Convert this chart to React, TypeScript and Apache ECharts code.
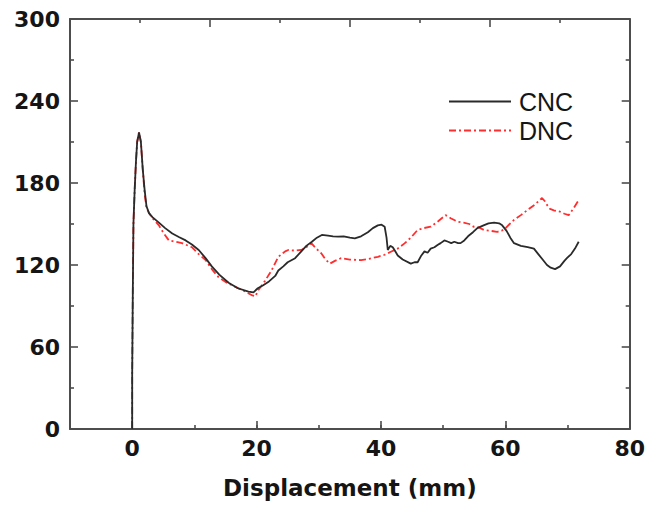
import React, { useEffect, useRef } from "react";
import * as echarts from "echarts";

const seriesNames = ["CNC", "DNC"];

const cncX = [0, 0, 0.1, 0.2, 0.4, 0.6, 0.8, 1.1, 1.4, 1.7, 2.0, 2.3, 2.7, 3.25, 4.3, 5.3, 6.45, 7.5, 8.6, 9.6, 10.7, 11.8, 12.8, 14, 15.5, 17, 18.7, 19.5, 20.2, 21, 22, 23, 23.5, 24.3, 25, 26.2, 27.2, 28, 28.9, 29.7, 30.5, 31.5, 32.3, 33.1, 34, 35, 35.8, 36.8, 37.9, 38.7, 39.5, 40.1, 40.6, 40.9, 41.1, 41.5, 41.9, 42.3, 42.7, 43.5, 44.8, 45.4, 45.9, 46.5, 47, 47.5, 48, 48.6, 49.1, 49.6, 50.2, 50.8, 51.3, 51.8, 52.4, 52.8, 53.4, 54, 54.8, 55.5, 56.5, 57.3, 58.2, 59, 59.5, 60.2, 60.8, 61.4, 62.5, 63.6, 64.6, 65.3, 66, 66.7, 67.3, 68, 68.8, 69.5, 69.9, 70.6, 71.2, 71.8];
const cncY = [0, 40, 100, 150, 175, 195, 210, 217, 210, 190, 175, 163, 158, 155, 151, 147, 143, 140.5, 138, 135, 131, 125, 119, 113, 107, 103, 100.5, 100, 103, 105, 108, 112, 116, 119, 122, 125, 130, 134, 137, 140, 142, 141.5, 141, 140.7, 141, 140, 139.5, 141, 144, 147, 149, 149.5, 148, 140, 131, 134, 133, 130, 127, 124, 121, 122, 122, 127, 130, 129, 132, 133, 134.6, 136, 138, 137, 136, 137, 136, 136, 138, 141, 144, 147, 149, 150.5, 151, 150.5, 149, 145, 140, 136, 134, 133, 132, 128, 124, 120, 118, 117, 119, 123, 125, 128, 132, 137];

const dncX = [0, 0, 0.1, 0.2, 0.4, 0.6, 0.8, 1.1, 1.4, 1.7, 2.0, 2.3, 2.7, 3.5, 4.3, 5.1, 5.9, 7, 8, 9.6, 10.7, 11.8, 12.8, 13.9, 15.2, 16.6, 18, 19.2, 19.8, 20.3, 21.3, 22.4, 23.5, 24.6, 25.1, 26.2, 27.2, 28, 28.8, 29.6, 30.4, 31.1, 31.8, 32.6, 33.6, 35, 36.8, 38, 39.5, 40.6, 41.6, 42.7, 43.8, 44.8, 45.9, 46.9, 48, 49.2, 50.4, 51.3, 52.3, 53.3, 54.2, 54.9, 55.5, 56.6, 57.6, 58.7, 59.4, 60, 60.7, 61.4, 62.5, 63.5, 64.7, 65.9, 66.3, 66.7, 67.2, 67.8, 68.3, 68.8, 69.5, 70.2, 70.9, 71.8];
const dncY = [0, 40, 100, 150, 175, 195, 210, 217, 210, 190, 172, 162, 158, 153, 149, 143, 138, 137, 136, 133, 128, 123.6, 117, 111, 107, 104, 101, 98, 97, 101.7, 108, 116, 126, 130, 131, 130.5, 131, 133, 136, 132, 128.6, 124, 121, 123, 125, 124, 123.6, 124.5, 126, 127.5, 129.7, 132, 135.8, 140, 145.6, 147, 148, 152, 156.5, 154, 151.7, 151, 150, 148, 148, 145.6, 145, 144.3, 145, 146.8, 150, 153, 156.5, 160, 164, 169, 167, 164, 161, 160, 159.5, 159, 157.5, 156.5, 161, 167.5];

const xTickLabels = [0, 20, 40, 60, 80];
const yTickLabels = [0, 60, 120, 180, 240, 300];

const AXIS_COLOR = "#4d4d4d";
const TEXT_COLOR = "#151515";

export default function App() {
  const ref = useRef<HTMLDivElement>(null);

  useEffect(() => {
    document.body.style.margin = "0";
    if (!ref.current) return;
    const chart = echarts.init(ref.current, null, { renderer: "svg" });

    const labelStyle = {
      fontSize: 22,
      fontWeight: "bold" as const,
      fontFamily: "DejaVu Sans",
      color: TEXT_COLOR,
    };
    const lineStyle = { color: AXIS_COLOR, width: 2 };
    const tickLine = { color: AXIS_COLOR, width: 1.6 };

    chart.setOption({
      animation: false,
      backgroundColor: "#ffffff",
      grid: { left: 70, right: 15, top: 19, bottom: 79, containLabel: false },
      legend: {
        data: seriesNames,
        orient: "vertical",
        left: 443,
        top: 84,
        itemWidth: 62,
        itemHeight: 20,
        itemGap: 4,
        itemStyle: { opacity: 0 },
        textStyle: {
          fontSize: 25,
          fontFamily: "Liberation Sans",
          color: TEXT_COLOR,
          padding: [0, 0, 0, 3],
        },
      },
      xAxis: [
        {
          type: "value",
          position: "bottom",
          min: -10,
          max: 80,
          interval: 10,
          axisLine: { show: true, onZero: false, lineStyle },
          axisTick: { show: true, inside: true, length: 4, lineStyle: tickLine },
          axisLabel: {
            ...labelStyle,
            margin: 8,
            showMaxLabel: true,
            showMinLabel: true,
            formatter: (v: number) => (xTickLabels.includes(v) ? String(v) : ""),
          },
          splitLine: { show: false },
          name: "Displacement (mm)",
          nameLocation: "middle",
          nameGap: 47,
          nameTextStyle: { ...labelStyle, fontSize: 23 },
        },
        {
          type: "value",
          position: "bottom",
          inverse: true,
          min: 0,
          max: 90,
          interval: 20,
          axisLine: { show: false, onZero: false },
          axisTick: { show: true, inside: true, length: 8, lineStyle: tickLine },
          axisLabel: { show: false },
          splitLine: { show: false },
        },
        {
          type: "value",
          position: "top",
          min: 0,
          max: 8,
          interval: 2,
          axisLine: { show: true, onZero: false, lineStyle },
          axisTick: { show: true, inside: true, length: 8, lineStyle: tickLine },
          minorTick: { show: true, splitNumber: 2, length: 4, lineStyle: tickLine },
          axisLabel: { show: false },
          splitLine: { show: false },
        },
      ],
      yAxis: [
        {
          type: "value",
          position: "left",
          min: 0,
          max: 300,
          interval: 60,
          axisLine: { show: true, onZero: false, lineStyle },
          axisTick: { show: true, inside: true, length: 8, lineStyle: tickLine },
          minorTick: { show: true, splitNumber: 2, length: 4, lineStyle: tickLine },
          axisLabel: {
            ...labelStyle,
            margin: 10,
            formatter: (v: number) => (yTickLabels.includes(v) ? String(v) : ""),
          },
          splitLine: { show: false },
        },
        {
          type: "value",
          position: "right",
          min: 0,
          max: 300,
          interval: 60,
          axisLine: { show: true, onZero: false, lineStyle },
          axisTick: { show: true, inside: true, length: 8, lineStyle: tickLine },
          minorTick: { show: true, splitNumber: 2, length: 4, lineStyle: tickLine },
          axisLabel: { show: false },
          splitLine: { show: false },
        },
      ],
      series: [
        {
          name: seriesNames[0],
          type: "line",
          xAxisIndex: 0,
          yAxisIndex: 0,
          symbol: "none",
          showSymbol: false,
          z: 3,
          color: "#2a2a2a",
          lineStyle: { color: "#2a2a2a", width: 1.8 },
          data: cncX.map((x, i) => [x, cncY[i]]),
        },
        {
          name: seriesNames[1],
          type: "line",
          xAxisIndex: 0,
          yAxisIndex: 0,
          symbol: "none",
          showSymbol: false,
          z: 2,
          color: "#ff2d2d",
          lineStyle: { color: "#ff2d2d", width: 1.8, type: [7, 3, 2, 3] },
          data: dncX.map((x, i) => [x, dncY[i]]),
        },
      ],
    });

    return () => chart.dispose();
  }, []);

  return <div ref={ref} style={{ width: 648, height: 508 }} />;
}
